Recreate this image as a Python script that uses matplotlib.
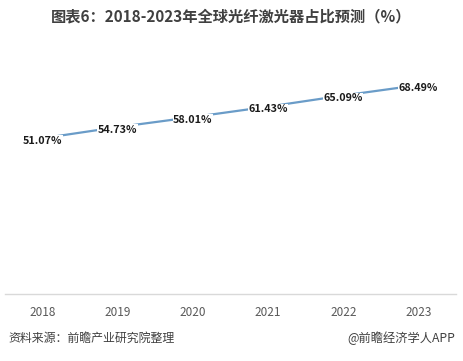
import matplotlib
matplotlib.use("Agg")
import matplotlib.pyplot as plt

plt.rcParams['font.family'] = ['Noto Sans CJK SC', 'DejaVu Sans']

years = ['2018', '2019', '2020', '2021', '2022', '2023']
values = [51.07, 54.73, 58.01, 61.43, 65.09, 68.49]
value_labels = ['51.07%', '54.73%', '58.01%', '61.43%', '65.09%', '68.49%']
title = '图表6：2018-2023年全球光纤激光器占比预测（%）'
source = '资料来源：前瞻产业研究院整理'
credit = '@前瞻经济学人APP'

W, H = 463, 361
fig = plt.figure(figsize=(W / 100, H / 100), dpi=100)
fig.patch.set_facecolor('white')
ax = fig.add_axes([5 / W, (H - 294) / H, 451 / W, 244 / H])

x = list(range(len(years)))
ax.plot(x, values, color='#6a9cc8', linewidth=1.6, solid_capstyle='round', zorder=2)
for xi, v, lab in zip(x, values, value_labels):
    ax.annotate(lab, (xi, v), xytext=(0, -2), textcoords='offset points',
                ha='center', va='center', fontsize=7.8, fontweight='bold',
                color='#1a1a1a', zorder=3,
                bbox=dict(boxstyle='square,pad=0.05', fc='white', ec='none'))

ax.set_xlim(-0.5, len(years) - 0.5)
ax.set_ylim(0, 80)
ax.set_xticks(x)
ax.set_xticklabels(years, fontsize=8.5, color='#595959')
ax.tick_params(axis='x', length=0, pad=9)
ax.set_yticks([])
for s in ['top', 'right', 'left']:
    ax.spines[s].set_visible(False)
ax.spines['bottom'].set_color('#d9d9d9')
ax.spines['bottom'].set_linewidth(1.0)

fig.text(0.5, 1 - 16 / H, title, ha='center', va='center', fontsize=11,
         fontweight='bold', color='#404040')
fig.text(8 / W, 1 - 338 / H, source, ha='left', va='center', fontsize=8.6,
         color='#404040', style='italic')
fig.text(455 / W, 1 - 338 / H, credit, ha='right', va='center', fontsize=8.8,
         color='#404040')

fig.savefig('out.png', dpi=100, facecolor='white')
